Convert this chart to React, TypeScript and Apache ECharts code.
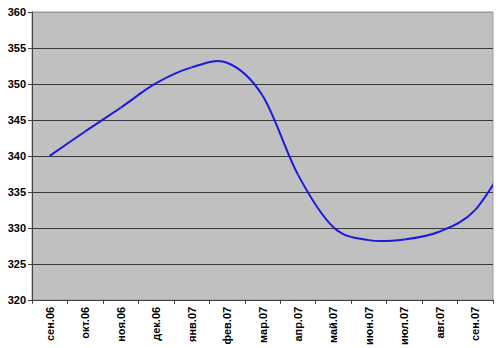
import React, { useEffect, useRef } from "react";
import * as echarts from "echarts";

const categories = [
  "сен.06", "окт.06", "ноя.06", "дек.06", "янв.07", "фев.07", "мар.07",
  "апр.07", "май.07", "июн.07", "июл.07", "авг.07", "сен.07", "окт.07",
];
const values = [340, 343.4, 346.7, 350.1, 352.3, 352.95, 348.4, 337.4, 330.1, 328.3, 328.4, 329.5, 332.5, 340];
const yMin = 320;
const yMax = 360;
const yStep = 5;

export default function App() {
  const ref = useRef<HTMLDivElement>(null);
  useEffect(() => {
    const chart = echarts.init(ref.current!, null, { renderer: "svg" });
    const n = values.length;
    chart.setOption({
      animation: false,
      backgroundColor: "#ffffff",
      grid: {
        left: 32,
        top: 12,
        right: 7,
        bottom: 45,
        show: true,
        backgroundColor: "#c0c0c0",
        borderColor: "#9a9a9a",
        borderWidth: 1,
      },
      xAxis: {
        type: "category",
        data: categories,
        max: 12,
        boundaryGap: true,
        axisLine: { show: true, lineStyle: { color: "#404040", width: 1 } },
        axisTick: { show: true, inside: false, length: 4, lineStyle: { color: "#404040" } },
        axisLabel: {
          rotate: 90,
          margin: 7,
          fontFamily: "Liberation Sans, Arial, sans-serif",
          fontWeight: "bold",
          fontSize: 11,
          color: "#000",
        },
        splitLine: { show: false },
      },
      yAxis: {
        type: "value",
        min: yMin,
        max: yMax,
        interval: yStep,
        axisLine: { show: true, lineStyle: { color: "#404040", width: 1 } },
        axisTick: { show: true, inside: false, length: 4, lineStyle: { color: "#404040" } },
        axisLabel: {
          margin: 6,
          fontFamily: "Liberation Sans, Arial, sans-serif",
          fontWeight: "bold",
          fontSize: 11,
          color: "#000",
        },
        splitLine: {
          show: true,
          lineStyle: {
            color: ["#404040", "#3a3a3a", "#3a3a3a", "#3a3a3a", "#3a3a3a", "#3a3a3a", "#3a3a3a", "#3a3a3a", "#9a9a9a"],
            width: 1,
          },
        },
      },
      series: [
        {
          type: "custom",
          clip: true,
          data: values.map((v, i) => [i, v]),
          renderItem: (params: any, api: any) => {
            const i = params.dataIndex;
            if (i >= n - 1) return null;
            const c = (j: number) => {
              const k = Math.max(0, Math.min(n - 1, j));
              return api.coord([k, values[k]]);
            };
            const p0 = c(i - 1);
            const p1 = c(i);
            const p2 = c(i + 1);
            const p3 = c(i + 2);
            return {
              type: "bezierCurve",
              shape: {
                x1: p1[0],
                y1: p1[1],
                x2: p2[0],
                y2: p2[1],
                cpx1: p1[0] + (p2[0] - p0[0]) / 6,
                cpy1: p1[1] + (p2[1] - p0[1]) / 6,
                cpx2: p2[0] - (p3[0] - p1[0]) / 6,
                cpy2: p2[1] - (p3[1] - p1[1]) / 6,
              },
              style: { stroke: "#1a1adc", lineWidth: 2, fill: null },
            };
          },
        },
      ],
    });
    return () => chart.dispose();
  }, []);
  return (
    <div
      ref={ref}
      style={{ position: "fixed", left: 0, top: 0, width: 500, height: 348, background: "#fff" }}
    />
  );
}
